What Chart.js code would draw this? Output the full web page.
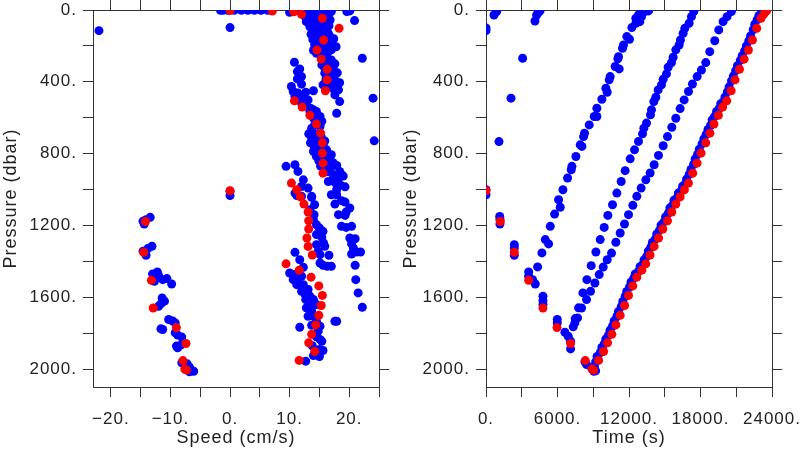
<!DOCTYPE html>
<html>
<head>
<meta charset="utf-8">
<script src="https://cdn.jsdelivr.net/npm/chart.js@4.4.0/dist/chart.umd.min.js"></script>
<style>
    html, body { margin: 0; padding: 0; background: #fff; }
    #wrap { position: relative; width: 800px; height: 450px; }
    canvas { position: absolute; top: 0; }
</style>
</head>
<body>
<div id="wrap">
    <canvas id="speedChart" width="400" height="450" style="left:0"></canvas>
    <canvas id="timeChart" width="400" height="450" style="left:400px"></canvas>
</div>
<script>
// tick positions
var pressureTicks = [0, 200, 400, 600, 800, 1000, 1200, 1400, 1600, 1800, 2000];
var speedTicks = [-20, -15, -10, -5, 0, 5, 10, 15, 20, 25];
var timeTicks = [0, 3000, 6000, 9000, 12000, 15000, 18000, 21000, 24000];

// red points: same samples in both panels
var redPressure = [6, 10, 24, 46, 102, 167, 223, 274, 330, 389, 450, 506, 541, 586, 635, 686, 740, 797, 853, 909,
    964, 1001, 1041, 1081, 1125, 1174, 1220, 1270, 1317, 1365, 1414, 1449, 1488, 1537, 1590, 1646, 1701, 1754, 1806, 1854,
    1902, 1952, 3, 1007, 1178, 1350, 1506, 1660, 1769, 1858, 1953, 2000, 2006];
var redSpeed = [7.1, 10.7, 12.0, 15.5, 18.3, 15.7, 14.6, 15.3, 16.3, 16.3, 16.0, 10.8, 12.1, 13.4, 14.5, 15.2, 15.5, 15.5, 15.6, 15.6,
    10.3, 11.2, 11.8, 12.4, 13.1, 13.2, 13.2, 12.9, 13.1, 13.8, 9.4, 11.6, 13.6, 14.9, 15.5, 15.3, 14.9, 14.4, 13.7, 13.2,
    14.2, 11.6, 0.0, 0.0, -14.2, -14.5, -13.2, -12.9, -9.0, -7.4, -7.9, -7.6, -7.3];
var redTime = [23500, 23450, 23300, 23080, 22720, 22360, 22020, 21660, 21270, 20900, 20570, 20200, 19860, 19500, 19130, 18790, 18440, 18050, 17710, 17350,
    16990, 16650, 16290, 15930, 15590, 15230, 14840, 14480, 14110, 13770, 13410, 13080, 12660, 12320, 11960, 11630, 11260, 10900, 10560, 10200,
    9870, 9450, 23550, 0, 1200, 2375, 3580, 4780, 5960, 7100, 8330, 8900, 9030];

// blue points, left panel: [speed, pressure]
var blueSpeedSurface = [[-1.6, 2], [-1.2, 2], [-0.4, 2], [0.7, 2], [1.9, 2], [3.0, 2], [4.1, 2], [5.2, 2], [6.3, 2], [10.0, 13], [10.6, 2],
    [12.0, 9], [12.8, 9], [13.4, 5], [14.0, 9], [14.5, 13], [15.6, 13], [16.5, 18], [17.0, 9], [19.6, 9], [20.1, 5],
    [-22.0, 115], [0.0, 98], [20.9, 59], [22.2, 269], [24.0, 491], [24.2, 729], [0.0, 1010], [0.0, 1033]];
var blueSpeedUpper = [[12.6, 37], [13.4, 37], [14.2, 46], [15.1, 43], [16.2, 46], [16.8, 56], [12.8, 65], [13.7, 74], [14.5, 74], [15.9, 80],
    [13.4, 93], [14.2, 102], [15.1, 93], [16.2, 106], [14.0, 120], [14.8, 130], [15.6, 124], [16.5, 130], [14.2, 148], [15.1, 148],
    [15.9, 154], [16.8, 148], [14.5, 176], [15.4, 180], [16.2, 176], [16.8, 195], [14.2, 195], [15.1, 204], [15.9, 213], [16.5, 232],
    [17.0, 222], [14.5, 241], [15.4, 250], [16.2, 250], [15.6, 287], [16.5, 287], [17.0, 278], [15.4, 306], [15.9, 324], [16.8, 343],
    [17.3, 324], [15.9, 352], [16.5, 361], [17.3, 371], [17.6, 389], [17.0, 399], [15.6, 417], [16.5, 417], [17.9, 426], [17.3, 439],
    [18.2, 445], [17.6, 473], [18.4, 510], [10.8, 291], [11.7, 328], [11.3, 343], [12.0, 371], [11.3, 384], [12.0, 413],
    [13.0, 22], [15.0, 25], [16.0, 30], [13.9, 58], [16.6, 88], [13.6, 135], [17.4, 160], [13.9, 165], [17.8, 205], [14.0, 225],
    [17.6, 300], [18.0, 350], [16.1, 385], [18.4, 405]];
var blueSpeedMiddle = [[10.3, 426], [10.6, 454], [11.4, 463], [10.9, 482], [12.7, 458], [14.0, 450], [11.7, 491], [12.3, 501], [13.1, 501], [12.8, 528],
    [13.5, 547], [14.0, 556], [13.4, 565], [14.5, 565], [15.1, 593], [14.0, 602], [14.8, 621], [14.2, 640], [13.7, 658], [15.1, 649],
    [14.0, 686], [14.8, 695], [13.7, 714], [14.5, 723], [14.0, 751], [15.6, 751], [14.5, 769], [14.0, 788], [15.1, 788], [16.2, 779],
    [14.5, 816], [15.9, 816], [17.0, 806], [16.8, 844], [15.9, 858], [17.9, 866], [18.4, 899], [16.8, 890], [17.3, 918], [18.2, 936],
    [18.7, 918], [17.9, 575], [17.3, 851], [19.0, 925], [17.6, 960], [18.5, 975], [19.3, 985], [17.9, 1000],
    [9.4, 871], [10.9, 862], [11.4, 899], [12.3, 946], [12.0, 983], [10.9, 1020], [13.1, 992], [13.7, 1038], [16.5, 955],
    [12.0, 520], [15.4, 620], [13.2, 690], [15.3, 705], [13.5, 740], [15.9, 730], [14.9, 840], [16.4, 900], [15.2, 870]];
var blueSpeedLower = [[11.2, 1033], [12.0, 1038], [13.7, 1044], [17.0, 1029], [17.9, 1029], [18.7, 1062], [19.3, 1070], [17.6, 1081], [20.1, 1103], [18.2, 1140],
    [19.3, 1144], [19.5, 1125], [14.2, 1085], [13.4, 1112], [14.1, 1140], [14.0, 1168], [14.5, 1196], [15.0, 1214], [15.6, 1233], [14.5, 1251],
    [15.4, 1266], [15.7, 1298], [15.9, 1316], [14.5, 1307], [14.8, 1344], [15.1, 1363], [16.6, 1366], [15.1, 1409], [15.6, 1422], [16.3, 1428],
    [17.0, 1428], [18.7, 1205], [19.5, 1211], [20.4, 1205], [20.1, 1270], [21.0, 1274], [20.4, 1303], [20.7, 1326], [20.4, 1359], [21.2, 1348],
    [21.9, 1348], [21.0, 1422], [21.1, 1502], [21.5, 1576], [22.2, 1656], [10.9, 1350], [11.7, 1391], [12.3, 1433], [10.0, 1465], [10.9, 1474],
    [11.4, 1502], [12.0, 1483], [10.6, 1502], [12.3, 1530], [11.2, 1530], [12.0, 1567], [12.6, 1585], [13.1, 1557], [13.4, 1594], [12.7, 1613],
    [14.0, 1613], [13.4, 1641], [12.8, 1659], [13.7, 1678], [14.5, 1641], [13.1, 1706], [14.0, 1706], [14.5, 1734], [13.7, 1756], [15.1, 1761],
    [14.8, 1789], [15.1, 1835], [15.4, 1845], [15.0, 1891], [15.6, 1897], [11.7, 1767], [17.6, 1734], [17.9, 1734], [12.7, 1956],
    [14.5, 1820], [13.8, 1870], [14.0, 1925], [15.0, 1930]];
var blueSpeedNegative = [[-14.6, 1177], [-14.1, 1168], [-13.4, 1155], [-14.4, 1192], [-14.6, 1344], [-13.8, 1329], [-13.1, 1316], [-14.1, 1366],
    [-13.0, 1470], [-12.2, 1459], [-12.0, 1478], [-11.3, 1502], [-10.6, 1496], [-9.8, 1526], [-12.7, 1511], [-11.4, 1604], [-11.0, 1622],
    [-11.6, 1637], [-12.0, 1650], [-10.3, 1724], [-9.6, 1733], [-9.2, 1743], [-11.3, 1780], [-11.6, 1776], [-9.2, 1798], [-8.8, 1811],
    [-8.1, 1822], [-9.0, 1872], [-8.8, 1882], [-8.3, 1867], [-8.1, 1965], [-7.2, 1971], [-6.8, 1989], [-6.1, 2012], [-6.8, 2015]];

// blue points, right panel: [time, pressure]
var blueTimeDescent = [[0, 100], [0, 115], [670, 28], [900, 9], [1090, 733], [2100, 491], [3075, 269], [4110, 61], [4250, 28], [4400, 15],
    [4530, 5], [0, 1001], [0, 1029], [1150, 1150], [1170, 1165], [1170, 1192], [2375, 1307], [2375, 1326], [2375, 1366], [3580, 1459],
    [3580, 1483], [3910, 1502], [4135, 1526], [4780, 1594], [4780, 1619], [4780, 1641], [5980, 1724], [5980, 1743], [6620, 1795], [6900, 1817],
    [7100, 1845], [7100, 1888], [8300, 1960], [8440, 1975], [8860, 1993], [9050, 2012]];
var blueTimeLineB = [[13635, 5], [13355, 5], [13076, 13], [12797, 28], [12573, 46], [12797, 50], [12573, 74], [12238, 98], [11819, 148], [12042, 163],
    [11540, 195], [11456, 213], [11120, 260], [11065, 272], [10841, 315], [11176, 328], [10422, 371], [10338, 389], [10059, 436], [10170, 458],
    [9723, 497], [9304, 547], [9081, 593], [9304, 593], [8662, 640], [8270, 686], [8187, 705], [7907, 751], [8047, 760], [7544, 816],
    [7209, 871], [7153, 890], [6846, 936], [6455, 1001], [6091, 1057], [6231, 1099], [5756, 1137], [5393, 1205], [4974, 1279], [5253, 1303],
    [4694, 1353], [4331, 1431], [13329, 9], [13050, 37], [12910, 65]];
var blueTimeLineC = [[17436, 9], [17241, 37], [17045, 74], [16682, 102], [16542, 130], [16319, 167], [16207, 195], [15928, 222], [15704, 263], [15564, 293],
    [15285, 319], [15145, 356], [14866, 386], [14726, 417], [14447, 445], [14251, 486], [14083, 510], [13888, 556], [13804, 584], [13469, 630],
    [13245, 658], [13134, 690], [12797, 732], [12462, 779], [12098, 829], [11679, 895], [11344, 955], [10981, 1020], [10617, 1085], [10226, 1144],
    [9919, 1211], [9584, 1279], [9221, 1348], [8829, 1424], [8466, 1502], [8131, 1576], [7768, 1659], [7488, 1719], [7321, 1765]];
var blueTimeLineD = [[20594, 9], [20230, 37], [19895, 65], [19532, 111], [19197, 171], [18777, 232], [18442, 293], [18079, 334], [17717, 371], [17325, 412],
    [16990, 454], [16627, 501], [16291, 549], [15928, 603], [15592, 653], [15229, 705], [14866, 756], [14473, 810], [14110, 862], [13775, 908],
    [13412, 946], [13020, 992], [12656, 1038], [12322, 1088], [11959, 1140], [11624, 1192], [11260, 1242], [10897, 1294], [10534, 1354], [10171, 1391],
    [9836, 1432], [9500, 1474], [9137, 1521], [8774, 1567], [8438, 1613], [8020, 1660], [7684, 1715], [7460, 1743]];
var blueTimeLineE = [[23350, 0], [23250, 12], [23150, 10], [22980, 30], [22900, 32], [22750, 55], [22550, 80], [22420, 110], [22200, 145], [22050, 172],
    [21850, 200], [21700, 228], [21500, 255], [21350, 280], [21100, 310], [20950, 338], [20750, 368], [20600, 395], [20400, 428], [20250, 456],
    [20050, 485], [19900, 512], [19700, 522], [19580, 548], [19350, 565], [19200, 592], [18980, 612], [18850, 642], [18630, 665], [18480, 692],
    [18280, 718], [18130, 746], [17900, 775], [17760, 803], [17550, 830], [17420, 860], [17200, 888], [17060, 915], [16830, 942], [16700, 970],
    [16500, 982], [16380, 1008], [16140, 1020], [16010, 1048], [15780, 1060], [15650, 1088], [15430, 1103], [15300, 1132], [15070, 1152], [14940, 1180],
    [14690, 1198], [14560, 1226], [14330, 1248], [14200, 1276], [13960, 1295], [13830, 1323], [13620, 1343], [13490, 1372], [13260, 1392], [13130, 1420],
    [12930, 1430], [12800, 1456], [12520, 1470], [12400, 1494], [12170, 1515], [12040, 1543], [11810, 1568], [11680, 1596], [11480, 1624], [11350, 1652],
    [11110, 1680], [10980, 1707], [10750, 1732], [10620, 1760], [10410, 1784], [10280, 1812], [10050, 1833], [9920, 1860], [9720, 1880], [9600, 1908],
    [9320, 1930], [9200, 1960], [9100, 1985], [9200, 2010]];

var axisColor = '#333';
var textColor = '#222';
var fontFamily = '"Liberation Sans", Arial, sans-serif';

function tickFmt(v) {
    return (v < 0 ? '\u2212' + Math.abs(v) : String(v)) + '.';
}

function setTicks(list) {
    return function (axis) {
        axis.ticks = list.map(function (v) { return { value: v }; });
    };
}

function fixSize(w, h) {
    return function (axis) {
        if (w !== null) axis.width = w;
        if (h !== null) axis.height = h;
        axis.paddingLeft = 0;
        axis.paddingRight = 0;
        axis.paddingTop = 0;
        axis.paddingBottom = 0;
    };
}

function gridOpts() {
    return { drawOnChartArea: false, drawTicks: true, tickLength: 10, color: axisColor, lineWidth: 1 };
}

function borderOpts() {
    return { display: true, color: axisColor, width: 1 };
}

// the reference lettering is spaced a little wider
var spacing = {
    id: 'spacing',
    beforeDraw: function (chart) { chart.ctx.letterSpacing = '1px'; }
};

function panel(canvasId, xTitle, xMin, xMax, xTicks, labelStep, blueData, redData, leftW, rightW) {
    return new Chart(document.getElementById(canvasId), {
        type: 'scatter',
        data: {
            datasets: [
                {
                    data: redData,
                    backgroundColor: '#ff0000',
                    borderWidth: 0,
                    pointRadius: 4.5,
                    clip: 0
                },
                {
                    data: blueData,
                    backgroundColor: '#0000ff',
                    borderWidth: 0,
                    pointRadius: 4.5,
                    clip: 0
                }
            ]
        },
        plugins: [spacing],
        options: {
            responsive: false,
            animation: false,
            devicePixelRatio: 1,
            layout: { padding: 0 },
            plugins: { legend: { display: false }, tooltip: { enabled: false } },
            scales: {
                x: {
                    type: 'linear', position: 'bottom', min: xMin, max: xMax,
                    afterBuildTicks: setTicks(xTicks),
                    afterFit: fixSize(null, 63),
                    grid: gridOpts(), border: borderOpts(),
                    ticks: {
                        autoSkip: false, maxRotation: 0, padding: 12, color: textColor,
                        font: { family: fontFamily, size: 17 },
                        callback: function (v) { return v % labelStep === 0 ? tickFmt(v) : ''; }
                    },
                    title: {
                        display: true, text: xTitle, color: textColor,
                        font: { family: fontFamily, size: 18 },
                        padding: { top: 0, bottom: 1 }
                    }
                },
                x2: {
                    type: 'linear', position: 'top', min: xMin, max: xMax,
                    afterBuildTicks: setTicks(xTicks),
                    afterFit: fixSize(null, 10),
                    grid: gridOpts(), border: borderOpts(),
                    ticks: { display: false }
                },
                y: {
                    type: 'linear', position: 'left', reverse: true, min: 0, max: 2100,
                    afterBuildTicks: setTicks(pressureTicks),
                    afterFit: fixSize(leftW, null),
                    grid: gridOpts(), border: borderOpts(),
                    ticks: {
                        autoSkip: false, padding: 6, color: textColor,
                        font: { family: fontFamily, size: 17 },
                        callback: function (v) { return v % 400 === 0 ? tickFmt(v) : ''; }
                    },
                    title: {
                        display: true, text: 'Pressure (dbar)', color: textColor,
                        font: { family: fontFamily, size: 18 },
                        padding: { top: 0, bottom: 0 }
                    }
                },
                y2: {
                    type: 'linear', position: 'right', reverse: true, min: 0, max: 2100,
                    afterBuildTicks: setTicks(pressureTicks),
                    afterFit: fixSize(rightW, null),
                    grid: gridOpts(), border: borderOpts(),
                    ticks: { display: false }
                }
            }
        }
    });
}

var blueSpeed = [].concat(blueSpeedSurface, blueSpeedUpper, blueSpeedMiddle, blueSpeedLower, blueSpeedNegative);
var blueTime = [].concat(blueTimeDescent, blueTimeLineB, blueTimeLineC, blueTimeLineD, blueTimeLineE);
var redSpeedPts = redSpeed.map(function (s, i) { return { x: s, y: redPressure[i] }; });
var redTimePts = redTime.map(function (t, i) { return { x: t, y: redPressure[i] }; });

panel('speedChart', 'Speed (cm/s)', -23, 25, speedTicks, 10, blueSpeed, redSpeedPts, 93, 21);
panel('timeChart', 'Time (s)', 0, 24000, timeTicks, 6000, blueTime, redTimePts, 86, 28);
</script>
</body>
</html>
